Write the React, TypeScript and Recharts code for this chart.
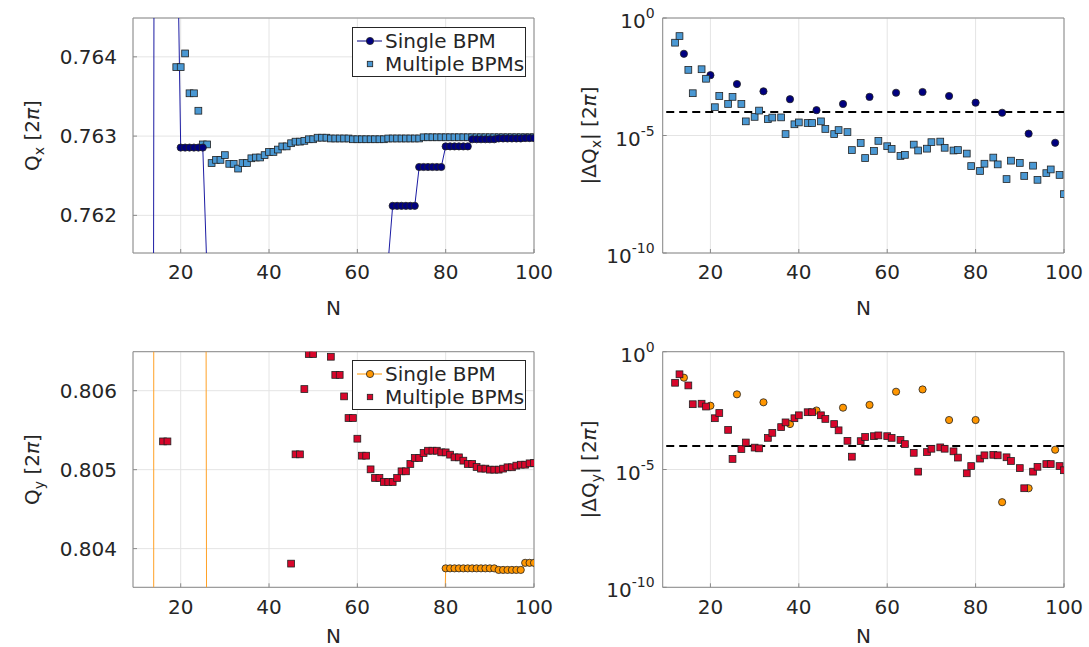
import React from "react";
import {
  ComposedChart,
  Line,
  Scatter,
  XAxis,
  YAxis,
  CartesianGrid,
  ReferenceLine,
  ReferenceArea,
  Legend,
} from "recharts";

// ---- data ----
const N_ALL = [
  12, 13, 14, 15, 16, 17, 18, 19, 20, 21, 22, 23, 24, 25, 26, 27, 28, 29, 30, 31, 32, 33, 34, 35, 36, 37, 38, 39,
  40, 41, 42, 43, 44, 45, 46, 47, 48, 49, 50, 51, 52, 53, 54, 55, 56, 57, 58, 59, 60, 61, 62, 63, 64, 65, 66, 67,
  68, 69, 70, 71, 72, 73, 74, 75, 76, 77, 78, 79, 80, 81, 82, 83, 84, 85, 86, 87, 88, 89, 90, 91, 92, 93, 94, 95,
  96, 97, 98, 99, 100,
];

// Qx, single BPM (N = 12..100), values outside the window are off-axis
const QX_SINGLE = [
  0.7315, 0.7315,
  0.7665, 0.7665, 0.7665, 0.7665, 0.7665, 0.7665,
  0.762855, 0.762855, 0.762855, 0.762855, 0.762855, 0.762855,
  0.76122, 0.76122, 0.76122, 0.76122, 0.76122, 0.76122,
  0.7605, 0.7605, 0.7605, 0.7605, 0.7605, 0.7605,
  0.7601, 0.7601, 0.7601, 0.7601, 0.7601, 0.7601,
  0.7596, 0.7596, 0.7596, 0.7596, 0.7596, 0.7596,
  0.7603, 0.7603, 0.7603, 0.7603, 0.7603, 0.7603,
  0.7608, 0.7608, 0.7608, 0.7608, 0.7608, 0.7608,
  0.76143, 0.76143, 0.76143, 0.76143, 0.76143, 0.76143,
  0.76212, 0.76212, 0.76212, 0.76212, 0.76212, 0.76212,
  0.76261, 0.76261, 0.76261, 0.76261, 0.76261, 0.76261,
  0.76287, 0.76287, 0.76287, 0.76287, 0.76287, 0.76287,
  0.76296, 0.76296, 0.76296, 0.76296, 0.76296, 0.76296,
  0.76297, 0.76297, 0.76297, 0.76297, 0.76297, 0.76297,
  0.762975, 0.762975, 0.762975,
];

// Qx, multiple BPMs (N = 12..100), null = outside the window
const QX_MULTI = [
  null, null, null, null, null, null, null,
  0.76387, 0.76387, 0.764043, 0.76354, 0.76354, 0.76332, 0.762895, 0.762895, 0.76266, 0.7627, 0.7627, 0.76276,
  0.76265, 0.76265, 0.76259, 0.76266, 0.76266, 0.76272, 0.76273, 0.76273, 0.76276, 0.7628, 0.7628, 0.76283,
  0.76287, 0.76287, 0.76291, 0.76293, 0.76293, 0.76294, 0.76296, 0.76296, 0.76298, 0.76298, 0.76298, 0.76297,
  0.76297, 0.76297, 0.76297, 0.76297, 0.76296, 0.76296, 0.76296, 0.76296, 0.76296, 0.76296, 0.76296, 0.76296,
  0.76297, 0.76297, 0.76297, 0.76297, 0.76297, 0.76297, 0.76297, 0.76297,
  0.762985, 0.762985, 0.762985, 0.762985, 0.762985, 0.762985, 0.762985, 0.762985, 0.762985, 0.762985,
  0.762985, 0.762985, 0.762985, 0.762985, 0.762985, 0.762985, 0.762985, 0.762985, 0.762985, 0.762985,
  0.762985, 0.762985, 0.762985, 0.762985, 0.762985, 0.762985,
];

// Qy, single BPM (N = 12..100)
const QY_SINGLE = [
  0.6, 0.6,
  0.83, 0.83, 0.83, 0.83, 0.83, 0.83, 0.83, 0.83, 0.83, 0.83, 0.83, 0.83,
  0.79875, 0.79875, 0.79875, 0.79875, 0.79875, 0.79875,
  0.799, 0.799, 0.799, 0.799, 0.799, 0.799,
  0.8005, 0.8005, 0.8005, 0.8005, 0.8005, 0.8005,
  0.8, 0.8, 0.8, 0.8, 0.8, 0.8,
  0.7995, 0.7995, 0.7995, 0.7995, 0.7995, 0.7995,
  0.801, 0.801, 0.801, 0.801, 0.801, 0.801,
  0.8005, 0.8005, 0.8005, 0.8005, 0.8005, 0.8005,
  0.801, 0.801, 0.801, 0.801, 0.801, 0.801,
  0.80125, 0.80125, 0.80125, 0.80125, 0.80125, 0.80125,
  0.80375, 0.80375, 0.80375, 0.80375, 0.80375, 0.80375,
  0.80375, 0.80375, 0.80375, 0.80375, 0.80375, 0.80375,
  0.80373, 0.80373, 0.80373, 0.80373, 0.80373, 0.80373,
  0.80382, 0.80382, 0.80382,
];

// Qy, multiple BPMs (N = 12..100)
const QY_MULTI = [
  null, null, null, null, 0.805358, 0.805358,
  null, null, null, null, null, null, null, null, null, null, null, null, null, null,
  null, null, null, null, null, null, null, null, null, null, null, null, null,
  0.80381, 0.805194, 0.805194, 0.806021, 0.806465, 0.806465, null, null, null,
  0.80643, 0.8062, 0.8062, 0.805928, 0.805654, 0.805654, 0.805392, 0.805177, 0.805177, 0.805004,
  0.804895, 0.804895, 0.804844, 0.804844, 0.804844, 0.804895, 0.804979, 0.804979, 0.805072, 0.805148,
  0.805148, 0.805211, 0.80524, 0.80524, 0.80524, 0.805219, 0.805219, 0.80519, 0.805156, 0.805156,
  0.805114, 0.805072, 0.805072, 0.805034, 0.805013, 0.805013, 0.805, 0.805, 0.805, 0.805013,
  0.80503, 0.80503, 0.805051, 0.805063, 0.805063, 0.80508, 0.805084,
];

const N_MULTI_ERR = [
  12, 13, 15, 16, 18, 19, 21, 22, 24, 25, 27, 28, 30, 31, 33, 34, 36, 37, 39, 40, 42, 43, 45, 46, 48, 49, 51, 52,
  54, 55, 57, 58, 60, 61, 63, 64, 66, 67, 69, 70, 72, 73, 75, 76, 78, 79, 81, 82, 84, 85, 87, 88, 90, 91, 93, 94,
  96, 97, 99, 100,
];
const N_SINGLE_ERR = [14, 20, 26, 32, 38, 44, 50, 56, 62, 68, 74, 80, 86, 92, 98];

const DQX_MULTI = [
  8.9e-2, 1.7e-1, 6.2e-3, 6.3e-4, 6.6e-3, 2.6e-3, 1.6e-4, 4.8e-4, 2.2e-4, 4.4e-4,
  2.2e-4, 4.0e-5, 6.2e-5, 1.15e-4, 5.0e-5, 5.8e-5, 5.9e-5, 1.15e-5, 3.0e-5, 3.6e-5,
  3.4e-5, 3.4e-5, 4.0e-5, 1.9e-5, 1.15e-5, 1.7e-5, 1.4e-5, 2.4e-6, 4.8e-6, 1.1e-6,
  2.2e-6, 5.9e-6, 3.5e-6, 2.7e-6, 1.35e-6, 1.5e-6, 4.1e-6, 2.3e-6, 2.75e-6, 5.2e-6,
  5.5e-6, 3.0e-6, 2.3e-6, 2.4e-6, 1.7e-6, 5.0e-7, 3.1e-7, 6.3e-7, 1.15e-6, 5.9e-7,
  1.4e-7, 8.5e-7, 6.8e-7, 1.9e-7, 5.2e-7, 1.3e-7, 2.5e-7, 3.6e-7, 2.1e-7, 3.2e-8,
];
const DQX_SINGLE = [3.0e-2, 3.7e-3, 1.55e-3, 7.6e-4, 3.5e-4, 1.2e-4, 2.2e-4, 4.4e-4, 6.6e-4, 7.1e-4, 4.8e-4, 2.5e-4, 9.3e-5, 1.2e-5, 4.9e-6];

const DQY_MULTI = [
  4.8e-2, 1.1e-1, 3.7e-2, 5.9e-3, 6.2e-3, 4.7e-3, 1.5e-3, 2.5e-3, 4.8e-4, 2.8e-5,
  7.4e-5, 1.4e-4, 8.5e-5, 7.9e-5, 2.2e-4, 3.6e-4, 6.3e-4, 1.0e-3, 1.5e-3, 2.0e-3,
  2.7e-3, 2.7e-3, 2.0e-3, 1.4e-3, 8.5e-4, 4.6e-4, 1.65e-4, 3.5e-5, 1.6e-4, 2.4e-4,
  2.6e-4, 2.8e-4, 2.6e-4, 2.2e-4, 1.8e-4, 1.2e-4, 5.1e-5, 8.1e-6, 5.5e-5, 7.6e-5,
  8.7e-5, 7.6e-5, 5.9e-5, 3.2e-5, 6.9e-6, 1.4e-5, 2.9e-5, 4.0e-5, 4.2e-5, 4.0e-5,
  3.3e-5, 2.3e-5, 1.15e-5, 1.6e-6, 8.1e-6, 1.3e-5, 1.7e-5, 1.7e-5, 1.4e-5, 9.3e-6,
];
const DQY_SINGLE = [7.9e-2, 5.1e-3, 1.55e-2, 7.1e-3, 8.5e-4, 3.2e-3, 4.2e-3, 5.5e-3, 2.0e-2, 2.5e-2, 1.26e-3, 1.26e-3, 4.1e-7, 1.6e-6, 6.9e-5];

const THRESHOLD = 1e-4;
const THRESHOLD_RANGE = [10, 100];

const X_DOMAIN = [9.2, 100];
const X_TICKS = [20, 40, 60, 80, 100];
const QX_DOMAIN = [0.761525, 0.76449];
const QX_TICKS = [0.762, 0.763, 0.764];
const QY_DOMAIN = [0.80351, 0.806494];
const QY_TICKS = [0.804, 0.805, 0.806];
const LOG_DOMAIN = [1e-10, 1];
const LOG_TICKS = [1e-10, 1e-5, 1];

// ---- styles ----
const FONT = "'DejaVu Sans', sans-serif";
const TXT = "#262626";
const BOX = "#8a8a8a";
const GRID = "#e4e4e4";
const EDGE = "#222222";
const NAVY = "#000080";
const SKY = "#4a98d3";
const ORANGE = "#ff9600";
const RED = "#d8062b";

const toPoints = (ns: number[], vs: (number | null)[]) =>
  ns.map((n, i) => ({ n, v: vs[i] })).filter((d) => d.v !== null);

const circleShape = (fill: string) => (p: any) => {
  if (p.cx == null || p.cy == null) return <g key={p.index} />;
  return <circle key={p.index} cx={p.cx} cy={p.cy} r={3.6} fill={fill} stroke={EDGE} strokeWidth={0.8} />;
};

const squareShape = (fill: string) => (p: any) => {
  if (p.cx == null || p.cy == null) return <g key={p.index} />;
  return <rect x={p.cx - 3.4} y={p.cy - 3.4} width={6.8} height={6.8} fill={fill} stroke={EDGE} strokeWidth={0.8} />;
};

const LogTick = (props: any) => {
  const { x, y, payload } = props;
  const exp = Math.round(Math.log10(payload.value));
  return (
    <text x={x} y={y + 10} textAnchor="end" fontFamily={FONT} fontSize={20} fill={TXT}>
      10
      <tspan dy={-10} fontSize={14}>{exp}</tspan>
    </text>
  );
};

const yTitle = (abs: boolean, sub: string, x: number, y: number) => () => (
  <text x={x} y={y} transform={`rotate(-90 ${x} ${y})`} textAnchor="middle" fontFamily={FONT} fontSize={20} fill={TXT}>
    {abs ? "|ΔQ" : "Q"}
    <tspan fontSize={14} dy={5}>{sub}</tspan>
    <tspan dy={-5}>{abs ? "| [2" : " [2"}</tspan>
    <tspan fontStyle="italic">π</tspan>]
  </text>
);

const xTitle = (x: number, y: number) => () => (
  <text x={x} y={y} textAnchor="middle" fontFamily={FONT} fontSize={20} fill={TXT}>
    N
  </text>
);

const LegendBox = ({ singleColor, multiColor }: { singleColor: string; multiColor: string }) => (
  <div
    style={{
      width: 172,
      height: 48,
      border: `1px solid ${TXT}`,
      background: "#fff",
      fontFamily: FONT,
      fontSize: 20,
      color: TXT,
      position: "relative",
      lineHeight: "22px",
    }}
  >
    <div style={{ position: "absolute", left: 0, top: 2, height: 22, display: "flex", alignItems: "center" }}>
      <svg width={32} height={22}>
        <line x1={4} y1={11} x2={29} y2={11} stroke={singleColor} strokeWidth={1} />
        <circle cx={17} cy={11} r={3.6} fill={singleColor} stroke={EDGE} strokeWidth={0.8} />
      </svg>
      <span>Single BPM</span>
    </div>
    <div style={{ position: "absolute", left: 0, top: 25, height: 22, display: "flex", alignItems: "center" }}>
      <svg width={32} height={22}>
        <rect x={14.3} y={8.3} width={5.4} height={5.4} fill={multiColor} stroke={EDGE} strokeWidth={0.8} />
      </svg>
      <span>Multiple BPMs</span>
    </div>
  </div>
);

const tickStyle = { fill: TXT, fontSize: 20, fontFamily: FONT };

interface TunePanelProps {
  left: number;
  top: number;
  height: number;
  marginTop: number;
  marginBottom: number;
  singleData: { n: number; v: number | null }[];
  multiData: { n: number; v: number | null }[];
  domain: number[];
  ticks: number[];
  sub: string;
  lineColor: string;
  singleColor: string;
  multiColor: string;
  legendTop: number;
  titleY: number;
  nY: number;
}

const TunePanel = (p: TunePanelProps) => (
  <div style={{ position: "absolute", left: p.left, top: p.top }}>
    <ComposedChart
      width={560}
      height={p.height}
      margin={{ top: p.marginTop, right: 26, bottom: p.marginBottom, left: 73 }}
      style={{ overflow: "visible" }}
    >
      <CartesianGrid stroke={GRID} />
      <XAxis
        dataKey="n"
        type="number"
        domain={X_DOMAIN}
        ticks={X_TICKS}
        allowDataOverflow
        height={30}
        tick={tickStyle}
        tickSize={-4}
        tickMargin={16}
        tickLine={{ stroke: BOX }}
        axisLine={false}
        label={{ content: xTitle(333.5, p.nY) }}
      />
      <YAxis
        dataKey="v"
        type="number"
        domain={p.domain}
        ticks={p.ticks}
        allowDataOverflow
        width={60}
        tick={tickStyle}
        tickFormatter={(v: number) => v.toFixed(3)}
        tickSize={-4}
        tickMargin={20}
        tickLine={{ stroke: BOX }}
        axisLine={false}
        label={{ content: yTitle(false, p.sub, 39, p.titleY) }}
      />
      <ReferenceArea
        x1={X_DOMAIN[0]}
        x2={X_DOMAIN[1]}
        y1={p.domain[0]}
        y2={p.domain[1]}
        fill="none"
        stroke={BOX}
        strokeWidth={1}
      />
      <Line
        data={p.singleData}
        dataKey="v"
        type="linear"
        stroke={p.lineColor}
        strokeWidth={1}
        dot={circleShape(p.singleColor)}
        activeDot={false}
        isAnimationActive={false}
      />
      <Scatter data={p.multiData} dataKey="v" shape={squareShape(p.multiColor)} isAnimationActive={false} />
      <Legend
        layout="vertical"
        align="center"
        verticalAlign="middle"
        wrapperStyle={{ left: 352, top: p.legendTop, width: "auto", height: "auto" }}
        content={() => <LegendBox singleColor={p.singleColor} multiColor={p.multiColor} />}
      />
    </ComposedChart>
  </div>
);

interface ErrPanelProps {
  left: number;
  top: number;
  height: number;
  marginTop: number;
  marginBottom: number;
  single: { n: number; v: number | null }[];
  multi: { n: number; v: number | null }[];
  sub: string;
  singleColor: string;
  multiColor: string;
  titleY: number;
  nY: number;
}

const ErrPanel = (p: ErrPanelProps) => (
  <div style={{ position: "absolute", left: p.left, top: p.top }}>
    <ComposedChart
      width={544}
      height={p.height}
      margin={{ top: p.marginTop, right: 25, bottom: p.marginBottom, left: 57.7 }}
      style={{ overflow: "visible" }}
    >
      <CartesianGrid stroke={GRID} />
      <XAxis
        dataKey="n"
        type="number"
        domain={X_DOMAIN}
        ticks={X_TICKS}
        allowDataOverflow
        height={30}
        tick={tickStyle}
        tickSize={-4}
        tickMargin={16}
        tickLine={{ stroke: BOX }}
        axisLine={false}
        label={{ content: xTitle(318.4, p.nY) }}
      />
      <YAxis
        dataKey="v"
        type="number"
        scale="log"
        domain={LOG_DOMAIN}
        ticks={LOG_TICKS}
        allowDataOverflow
        width={60}
        tick={<LogTick />}
        tickSize={-4}
        tickMargin={12}
        tickLine={{ stroke: BOX }}
        axisLine={false}
        label={{ content: yTitle(true, p.sub, 51, p.titleY) }}
      />
      <ReferenceArea
        x1={X_DOMAIN[0]}
        x2={X_DOMAIN[1]}
        y1={LOG_DOMAIN[0]}
        y2={LOG_DOMAIN[1]}
        fill="none"
        stroke={BOX}
        strokeWidth={1}
      />
      <ReferenceLine
        segment={[
          { x: THRESHOLD_RANGE[0], y: THRESHOLD },
          { x: THRESHOLD_RANGE[1], y: THRESHOLD },
        ]}
        stroke="#000"
        strokeWidth={2}
        strokeDasharray="8 5"
      />
      <Scatter data={p.single} dataKey="v" shape={circleShape(p.singleColor)} isAnimationActive={false} />
      <Scatter data={p.multi} dataKey="v" shape={squareShape(p.multiColor)} isAnimationActive={false} />
    </ComposedChart>
  </div>
);

export default function App() {
  return (
    <div style={{ position: "absolute", left: 0, top: 0, width: 1089, height: 647, background: "#fff" }}>
      <ErrPanel
        left={545}
        top={0}
        height={323}
        marginTop={18}
        marginBottom={40}
        single={toPoints(N_SINGLE_ERR, DQX_SINGLE)}
        multi={toPoints(N_MULTI_ERR, DQX_MULTI)}
        sub="x"
        singleColor={NAVY}
        multiColor={SKY}
        titleY={135.5}
        nY={315}
      />
      <ErrPanel
        left={545}
        top={323}
        height={324}
        marginTop={28.7}
        marginBottom={29.7}
        single={toPoints(N_SINGLE_ERR, DQY_SINGLE)}
        multi={toPoints(N_MULTI_ERR, DQY_MULTI)}
        sub="y"
        singleColor={ORANGE}
        multiColor={RED}
        titleY={146.5}
        nY={319.5}
      />
      <TunePanel
        left={0}
        top={0}
        height={323}
        marginTop={18}
        marginBottom={40}
        singleData={toPoints(N_ALL, QX_SINGLE)}
        multiData={toPoints(N_ALL, QX_MULTI)}
        domain={QX_DOMAIN}
        ticks={QX_TICKS}
        sub="x"
        lineColor="#1b1ba3"
        singleColor={NAVY}
        multiColor={SKY}
        legendTop={27}
        titleY={135.5}
        nY={315}
      />
      <TunePanel
        left={0}
        top={323}
        height={324}
        marginTop={28.7}
        marginBottom={29.7}
        singleData={toPoints(N_ALL, QY_SINGLE)}
        multiData={toPoints(N_ALL, QY_MULTI)}
        domain={QY_DOMAIN}
        ticks={QY_TICKS}
        sub="y"
        lineColor="#ffa126"
        singleColor={ORANGE}
        multiColor={RED}
        legendTop={37}
        titleY={146.5}
        nY={319.5}
      />
    </div>
  );
}
